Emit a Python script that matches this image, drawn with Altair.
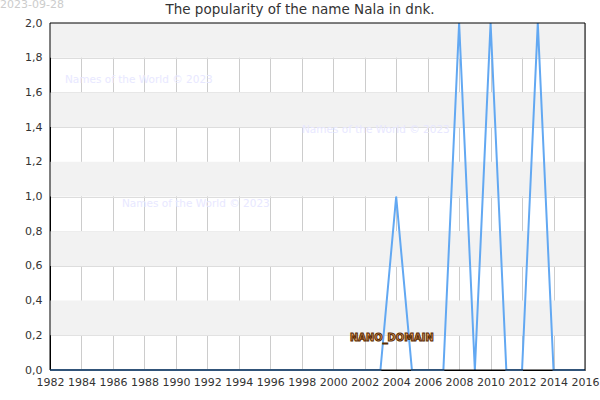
import altair as alt
import pandas as pd

years = list(range(1982, 2017))
peaks = {2004: 1, 2008: 2, 2010: 2, 2013: 2}
values = [peaks.get(y, 0) for y in years]
tick_years = list(range(1982, 2017, 2))
y_ticks = [round(i * 0.2, 1) for i in range(11)]

band_lo = [1.8, 1.4, 1.0, 0.6, 0.2]
band_hi = [2.0, 1.6, 1.2, 0.8, 0.4]

title_text = "The popularity of the name Nala in dnk."
date_text = "2023-09-28"
watermark = "Names of the World © 2023"

df = pd.DataFrame({"year": years, "value": values})
bands = pd.DataFrame({"lo": band_lo, "hi": band_hi})

W, H = 535, 347
xscale = alt.Scale(domain=[1982, 2016], nice=False, zero=False)
yscale = alt.Scale(domain=[0, 2], nice=False)

y_axis = alt.Axis(values=y_ticks, title=None, labelOverlap=False,
                  grid=True, gridColor="#dddddd", ticks=False,
                  labelExpr="replace(format(datum.value, '.1f'), '.', ',')",
                  domainColor="black", labelColor="#333", labelFontSize=11,
                  labelPadding=8)

band_layer = alt.Chart(bands).mark_rect(color="#f2f2f2").encode(
    y=alt.Y("lo:Q", scale=yscale, axis=y_axis),
    y2="hi:Q",
    x=alt.value(0), x2=alt.value(W),
)

line = alt.Chart(df).mark_line(color="#62a8f2", strokeWidth=2).encode(
    x=alt.X("year:Q", scale=xscale,
            axis=alt.Axis(values=tick_years, title=None, grid=True, gridColor="#cccccc",
                          format="d", labelOverlap=False,
                          ticks=False, domainColor="black", labelColor="#333",
                          labelFontSize=11, labelPadding=6, labelFlush=False)),
    y=alt.Y("value:Q", scale=yscale, axis=y_axis),
)

frame = alt.Chart(pd.DataFrame({"t": [0]})).mark_rect(
    fill=None, stroke="black", strokeWidth=1).encode(
    x=alt.value(0), x2=alt.value(W), y=alt.value(0), y2=alt.value(H))

def txt(s, x, y, **kw):
    return alt.Chart(pd.DataFrame({"t": [s]})).mark_text(**kw).encode(
        text="t:N", x=alt.value(x), y=alt.value(y))

wm_kw = dict(color="#e8e8ff", fontSize=10.5, align="left", baseline="middle", font="DejaVu Sans")
layers = [band_layer, line,
          txt(watermark, 15, 57, **wm_kw),
          txt(watermark, 252, 107, **wm_kw),
          txt(watermark, 72, 181, **wm_kw),
          txt("NANO_DOMAIN", 300, 315, fontSize=11, fontWeight="bold", align="left",
              baseline="middle", font="DejaVu Sans Condensed", stroke="#5a2a00",
              strokeWidth=1, color="#eaa565"),
          frame,
          txt(title_text, 250, -13, fontSize=13.5, align="center", baseline="middle",
              font="DejaVu Sans", color="#333"),
          txt(date_text, -50, -18, fontSize=11, align="left", baseline="middle",
              font="DejaVu Sans", color="#cccccc"),
          ]

chart = alt.layer(*layers).properties(
    width=W, height=H,
    autosize=alt.AutoSizeParams(type="none"),
    padding={"left": 50, "top": 23, "right": 15, "bottom": 30},
).configure_view(stroke=None).configure_axis(
    labelFont="DejaVu Sans", domainWidth=1)

chart.save("out.html", embed_options={"renderer": "svg", "actions": False})
